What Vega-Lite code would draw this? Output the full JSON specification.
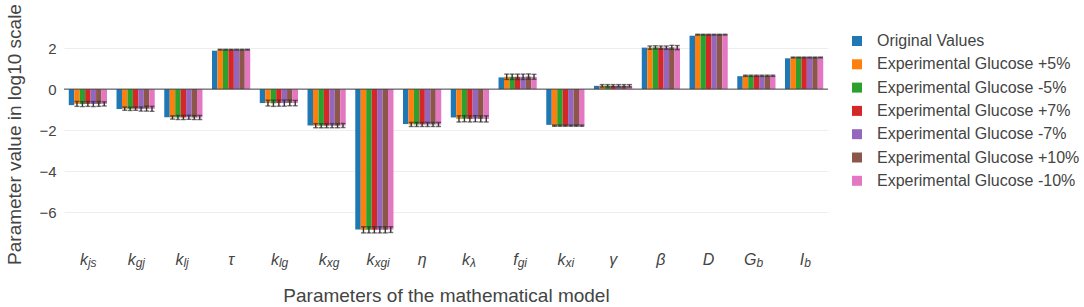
{
  "$schema": "https://vega.github.io/schema/vega-lite/v6.json",
  "autosize": {"type": "none"},
  "padding": {"left": 64, "top": 24, "right": 256, "bottom": 63},
  "width": 764,
  "height": 220,
  "background": "white",
  "data": {"values": [
    {"param": "k_js", "series": "Original Values", "value": -0.78, "err": 0},
    {"param": "k_js", "series": "Experimental Glucose +5%", "value": -0.72, "err": 0.12},
    {"param": "k_js", "series": "Experimental Glucose -5%", "value": -0.73, "err": 0.12},
    {"param": "k_js", "series": "Experimental Glucose +7%", "value": -0.72, "err": 0.12},
    {"param": "k_js", "series": "Experimental Glucose -7%", "value": -0.73, "err": 0.12},
    {"param": "k_js", "series": "Experimental Glucose +10%", "value": -0.72, "err": 0.12},
    {"param": "k_js", "series": "Experimental Glucose -10%", "value": -0.72, "err": 0.1},
    {"param": "k_gj", "series": "Original Values", "value": -0.97, "err": 0},
    {"param": "k_gj", "series": "Experimental Glucose +5%", "value": -0.95, "err": 0.08},
    {"param": "k_gj", "series": "Experimental Glucose -5%", "value": -0.96, "err": 0.08},
    {"param": "k_gj", "series": "Experimental Glucose +7%", "value": -0.95, "err": 0.08},
    {"param": "k_gj", "series": "Experimental Glucose -7%", "value": -0.97, "err": 0.1},
    {"param": "k_gj", "series": "Experimental Glucose +10%", "value": -0.95, "err": 0.12},
    {"param": "k_gj", "series": "Experimental Glucose -10%", "value": -0.96, "err": 0.12},
    {"param": "k_lj", "series": "Original Values", "value": -1.37, "err": 0},
    {"param": "k_lj", "series": "Experimental Glucose +5%", "value": -1.38, "err": 0.08},
    {"param": "k_lj", "series": "Experimental Glucose -5%", "value": -1.38, "err": 0.1},
    {"param": "k_lj", "series": "Experimental Glucose +7%", "value": -1.38, "err": 0.1},
    {"param": "k_lj", "series": "Experimental Glucose -7%", "value": -1.37, "err": 0.1},
    {"param": "k_lj", "series": "Experimental Glucose +10%", "value": -1.38, "err": 0.1},
    {"param": "k_lj", "series": "Experimental Glucose -10%", "value": -1.38, "err": 0.1},
    {"param": "τ", "series": "Original Values", "value": 1.87, "err": 0},
    {"param": "τ", "series": "Experimental Glucose +5%", "value": 1.92, "err": 0.02},
    {"param": "τ", "series": "Experimental Glucose -5%", "value": 1.92, "err": 0.02},
    {"param": "τ", "series": "Experimental Glucose +7%", "value": 1.92, "err": 0.02},
    {"param": "τ", "series": "Experimental Glucose -7%", "value": 1.92, "err": 0.02},
    {"param": "τ", "series": "Experimental Glucose +10%", "value": 1.92, "err": 0.02},
    {"param": "τ", "series": "Experimental Glucose -10%", "value": 1.92, "err": 0.02},
    {"param": "k_lg", "series": "Original Values", "value": -0.68, "err": 0},
    {"param": "k_lg", "series": "Experimental Glucose +5%", "value": -0.68, "err": 0.14},
    {"param": "k_lg", "series": "Experimental Glucose -5%", "value": -0.69, "err": 0.15},
    {"param": "k_lg", "series": "Experimental Glucose +7%", "value": -0.68, "err": 0.15},
    {"param": "k_lg", "series": "Experimental Glucose -7%", "value": -0.68, "err": 0.15},
    {"param": "k_lg", "series": "Experimental Glucose +10%", "value": -0.67, "err": 0.14},
    {"param": "k_lg", "series": "Experimental Glucose -10%", "value": -0.68, "err": 0.13},
    {"param": "k_xg", "series": "Original Values", "value": -1.77, "err": 0},
    {"param": "k_xg", "series": "Experimental Glucose +5%", "value": -1.78, "err": 0.1},
    {"param": "k_xg", "series": "Experimental Glucose -5%", "value": -1.78, "err": 0.1},
    {"param": "k_xg", "series": "Experimental Glucose +7%", "value": -1.78, "err": 0.1},
    {"param": "k_xg", "series": "Experimental Glucose -7%", "value": -1.78, "err": 0.1},
    {"param": "k_xg", "series": "Experimental Glucose +10%", "value": -1.78, "err": 0.1},
    {"param": "k_xg", "series": "Experimental Glucose -10%", "value": -1.77, "err": 0.1},
    {"param": "k_xgi", "series": "Original Values", "value": -6.83, "err": 0},
    {"param": "k_xgi", "series": "Experimental Glucose +5%", "value": -6.85, "err": 0.15},
    {"param": "k_xgi", "series": "Experimental Glucose -5%", "value": -6.85, "err": 0.15},
    {"param": "k_xgi", "series": "Experimental Glucose +7%", "value": -6.85, "err": 0.15},
    {"param": "k_xgi", "series": "Experimental Glucose -7%", "value": -6.85, "err": 0.15},
    {"param": "k_xgi", "series": "Experimental Glucose +10%", "value": -6.85, "err": 0.15},
    {"param": "k_xgi", "series": "Experimental Glucose -10%", "value": -6.84, "err": 0.14},
    {"param": "η", "series": "Original Values", "value": -1.7, "err": 0},
    {"param": "η", "series": "Experimental Glucose +5%", "value": -1.72, "err": 0.1},
    {"param": "η", "series": "Experimental Glucose -5%", "value": -1.72, "err": 0.1},
    {"param": "η", "series": "Experimental Glucose +7%", "value": -1.72, "err": 0.1},
    {"param": "η", "series": "Experimental Glucose -7%", "value": -1.72, "err": 0.1},
    {"param": "η", "series": "Experimental Glucose +10%", "value": -1.72, "err": 0.1},
    {"param": "η", "series": "Experimental Glucose -10%", "value": -1.72, "err": 0.1},
    {"param": "k_λ", "series": "Original Values", "value": -1.38, "err": 0},
    {"param": "k_λ", "series": "Experimental Glucose +5%", "value": -1.45, "err": 0.15},
    {"param": "k_λ", "series": "Experimental Glucose -5%", "value": -1.44, "err": 0.15},
    {"param": "k_λ", "series": "Experimental Glucose +7%", "value": -1.45, "err": 0.15},
    {"param": "k_λ", "series": "Experimental Glucose -7%", "value": -1.44, "err": 0.15},
    {"param": "k_λ", "series": "Experimental Glucose +10%", "value": -1.45, "err": 0.15},
    {"param": "k_λ", "series": "Experimental Glucose -10%", "value": -1.45, "err": 0.15},
    {"param": "f_gi", "series": "Original Values", "value": 0.57, "err": 0},
    {"param": "f_gi", "series": "Experimental Glucose +5%", "value": 0.6, "err": 0.13},
    {"param": "f_gi", "series": "Experimental Glucose -5%", "value": 0.6, "err": 0.13},
    {"param": "f_gi", "series": "Experimental Glucose +7%", "value": 0.6, "err": 0.13},
    {"param": "f_gi", "series": "Experimental Glucose -7%", "value": 0.6, "err": 0.13},
    {"param": "f_gi", "series": "Experimental Glucose +10%", "value": 0.61, "err": 0.13},
    {"param": "f_gi", "series": "Experimental Glucose -10%", "value": 0.6, "err": 0.12},
    {"param": "k_xi", "series": "Original Values", "value": -1.74, "err": 0},
    {"param": "k_xi", "series": "Experimental Glucose +5%", "value": -1.78, "err": 0.03},
    {"param": "k_xi", "series": "Experimental Glucose -5%", "value": -1.78, "err": 0.03},
    {"param": "k_xi", "series": "Experimental Glucose +7%", "value": -1.78, "err": 0.03},
    {"param": "k_xi", "series": "Experimental Glucose -7%", "value": -1.78, "err": 0.03},
    {"param": "k_xi", "series": "Experimental Glucose +10%", "value": -1.78, "err": 0.03},
    {"param": "k_xi", "series": "Experimental Glucose -10%", "value": -1.78, "err": 0.03},
    {"param": "γ", "series": "Original Values", "value": 0.16, "err": 0},
    {"param": "γ", "series": "Experimental Glucose +5%", "value": 0.16, "err": 0.06},
    {"param": "γ", "series": "Experimental Glucose -5%", "value": 0.16, "err": 0.06},
    {"param": "γ", "series": "Experimental Glucose +7%", "value": 0.16, "err": 0.06},
    {"param": "γ", "series": "Experimental Glucose -7%", "value": 0.16, "err": 0.06},
    {"param": "γ", "series": "Experimental Glucose +10%", "value": 0.16, "err": 0.06},
    {"param": "γ", "series": "Experimental Glucose -10%", "value": 0.16, "err": 0.06},
    {"param": "β", "series": "Original Values", "value": 2.02, "err": 0},
    {"param": "β", "series": "Experimental Glucose +5%", "value": 2.02, "err": 0.08},
    {"param": "β", "series": "Experimental Glucose -5%", "value": 2.03, "err": 0.08},
    {"param": "β", "series": "Experimental Glucose +7%", "value": 2.02, "err": 0.08},
    {"param": "β", "series": "Experimental Glucose -7%", "value": 2.02, "err": 0.08},
    {"param": "β", "series": "Experimental Glucose +10%", "value": 2.03, "err": 0.1},
    {"param": "β", "series": "Experimental Glucose -10%", "value": 2.02, "err": 0.1},
    {"param": "D", "series": "Original Values", "value": 2.6, "err": 0},
    {"param": "D", "series": "Experimental Glucose +5%", "value": 2.65, "err": 0.02},
    {"param": "D", "series": "Experimental Glucose -5%", "value": 2.65, "err": 0.02},
    {"param": "D", "series": "Experimental Glucose +7%", "value": 2.65, "err": 0.02},
    {"param": "D", "series": "Experimental Glucose -7%", "value": 2.65, "err": 0.02},
    {"param": "D", "series": "Experimental Glucose +10%", "value": 2.65, "err": 0.02},
    {"param": "D", "series": "Experimental Glucose -10%", "value": 2.65, "err": 0.02},
    {"param": "G_b", "series": "Original Values", "value": 0.63, "err": 0},
    {"param": "G_b", "series": "Experimental Glucose +5%", "value": 0.65, "err": 0.03},
    {"param": "G_b", "series": "Experimental Glucose -5%", "value": 0.65, "err": 0.03},
    {"param": "G_b", "series": "Experimental Glucose +7%", "value": 0.65, "err": 0.03},
    {"param": "G_b", "series": "Experimental Glucose -7%", "value": 0.65, "err": 0.03},
    {"param": "G_b", "series": "Experimental Glucose +10%", "value": 0.65, "err": 0.03},
    {"param": "G_b", "series": "Experimental Glucose -10%", "value": 0.65, "err": 0.03},
    {"param": "I_b", "series": "Original Values", "value": 1.5, "err": 0},
    {"param": "I_b", "series": "Experimental Glucose +5%", "value": 1.54, "err": 0.02},
    {"param": "I_b", "series": "Experimental Glucose -5%", "value": 1.54, "err": 0.02},
    {"param": "I_b", "series": "Experimental Glucose +7%", "value": 1.54, "err": 0.02},
    {"param": "I_b", "series": "Experimental Glucose -7%", "value": 1.54, "err": 0.02},
    {"param": "I_b", "series": "Experimental Glucose +10%", "value": 1.54, "err": 0.02},
    {"param": "I_b", "series": "Experimental Glucose -10%", "value": 1.54, "err": 0.02}
  ]},
  "layer": [
    {
      "mark": {"type": "bar"},
      "encoding": {
        "x": {
          "field": "param", "type": "nominal", "sort": null,
          "scale": {"paddingInner": 0.2, "paddingOuter": 0.1},
          "axis": {
            "orient": "bottom",
            "title": "Parameters of the mathematical model",
            "labelExpr": "split(datum.value, '_')[0]",
            "labelFontSize": 16,
            "labelPadding": 7,
            "labelAlign": {"condition": {"test": "indexof(datum.value, '_') >= 0", "value": "right"}, "value": "center"},
            "titlePadding": 19,
            "encode": {"labels": {"update": {"dx": {"signal": "indexof(datum.value, '_') < 0 ? 0 : (length(split(datum.value, '_')[1]) >= 3 ? -4 : (length(split(datum.value, '_')[1]) == 2 ? -2.5 : 0))"}}}}
          }
        },
        "xOffset": {
          "field": "series", "type": "nominal", "sort": null,
          "scale": {"paddingInner": 0, "paddingOuter": 0}
        },
        "y": {
          "field": "value", "type": "quantitative",
          "title": "Parameter value in log10 scale",
          "scale": {"domain": [-7.54, 3.17], "nice": false, "zero": false}
        },
        "color": {
          "field": "series", "type": "nominal", "sort": null,
          "scale": {
            "domain": ["Original Values", "Experimental Glucose +5%", "Experimental Glucose -5%", "Experimental Glucose +7%", "Experimental Glucose -7%", "Experimental Glucose +10%", "Experimental Glucose -10%"],
            "range": ["#1f77b4", "#ff7f0e", "#2ca02c", "#d62728", "#9467bd", "#8c564b", "#e377c2"]
          },
          "legend": {
            "orient": "none", "legendX": 785, "legendY": 9,
            "title": null, "symbolType": "square", "symbolSize": 100,
            "labelFontSize": 16, "labelColor": "#444", "labelFont": "Liberation Sans",
            "labelLimit": 0,
            "rowPadding": 7.3, "labelOffset": 12, "symbolStrokeWidth": 0
          }
        }
      }
    },
    {
      "transform": [{"filter": "datum.series != 'Original Values'"}],
      "mark": {"type": "errorbar", "ticks": {"size": 5}, "color": "#333", "thickness": 1.4},
      "encoding": {
        "x": {
          "field": "param", "type": "nominal", "sort": null,
          "axis": {
            "orient": "bottom",
            "title": null,
            "labelExpr": "length(split(datum.value, '_')) > 1 ? split(datum.value, '_')[1] : ''",
            "labelFontSize": 12,
            "labelPadding": 13,
            "labelAlign": "left",
            "encode": {"labels": {"update": {"dx": {"signal": "indexof(datum.value, '_') < 0 ? 0 : (length(split(datum.value, '_')[1]) >= 3 ? -4 : (length(split(datum.value, '_')[1]) == 2 ? -2.5 : 0))"}}}}
          }
        },
        "xOffset": {"field": "series", "type": "nominal", "sort": null},
        "y": {"field": "value", "type": "quantitative", "title": "Parameter value in log10 scale"},
        "yError": {"field": "err"}
      }
    },
    {
      "data": {"values": [{"zero": 0}]},
      "mark": {"type": "rule", "color": "#444", "strokeWidth": 1},
      "encoding": {"y": {"field": "zero", "type": "quantitative"}}
    }
  ],
  "resolve": {"axis": {"x": "independent"}},
  "config": {
    "font": "Liberation Sans",
    "view": {"stroke": null},
    "axisX": {
      "ticks": false, "domain": false, "grid": false, "labelAngle": 0,
      "labelFont": "Liberation Sans",
      "labelFontStyle": "italic", "labelColor": "#444",
      "titleFont": "Liberation Sans",
      "titleFontSize": 19, "titleFontWeight": "normal", "titleColor": "#444"
    },
    "axisY": {
      "ticks": false, "domain": false, "grid": true, "gridColor": "#eee",
      "values": [-6, -4, -2, 0, 2],
      "labelFont": "Liberation Sans", "titleFont": "Liberation Sans",
      "labelFontSize": 15, "labelColor": "#444", "labelPadding": 8,
      "titleFontSize": 19, "titleFontWeight": "normal", "titleColor": "#444", "titlePadding": 14
    }
  }
}
